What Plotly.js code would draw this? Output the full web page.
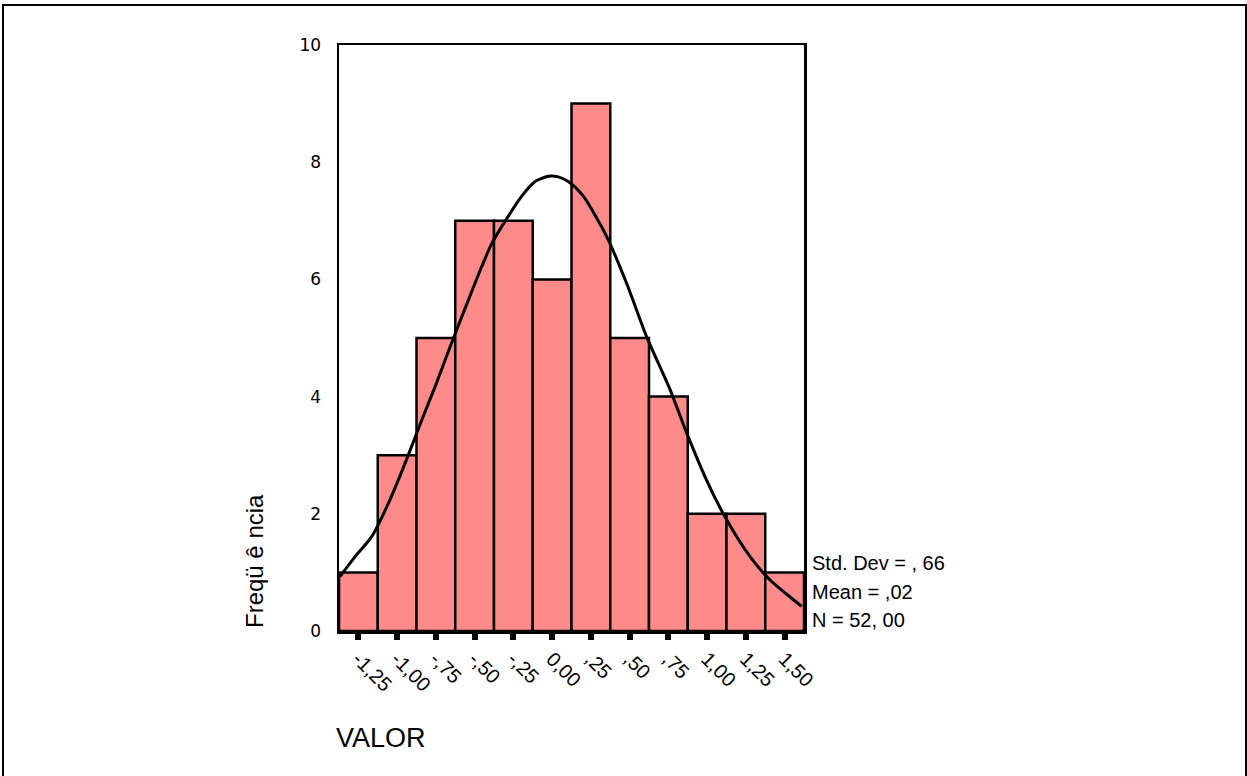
<!DOCTYPE html>
<html>
<head>
<meta charset="utf-8">
<script src="https://cdn.plot.ly/plotly-3.0.1.min.js"></script>
<style>
html,body{margin:0;padding:0;background:#fff;}
#wrap{position:relative;width:1247px;height:776px;overflow:hidden;}
#frame{position:absolute;left:2px;top:4px;width:1241px;height:800px;border:2px solid #000;pointer-events:none;}
#chart{position:absolute;left:0;top:0;width:1247px;height:776px;}
</style>
</head>
<body>
<div id="wrap"><div id="chart"></div><div id="frame"></div></div>
<script>
// Histogram bins (centres) and counts
const binCenters = [-1.25, -1.00, -0.75, -0.50, -0.25, 0.00, 0.25, 0.50, 0.75, 1.00, 1.25, 1.50];
const counts     = [1, 3, 5, 7, 7, 6, 9, 5, 4, 2, 2, 1];
const tickLabels = ["-1,25", "-1,00", "-,75", "-,50", "-,25", "0,00", ",25", ",50", ",75", "1,00", "1,25", "1,50"];

// Normal curve, points
const curveX = [-1.369, -1.271, -1.164, -1.056, -0.949, -0.841, -0.755, -0.658, -0.540, -0.454, -0.390, -0.304, -0.196, -0.110, -0.025, 0.040, 0.104, 0.201, 0.352, 0.481, 0.610, 0.761, 0.868, 0.997, 1.115, 1.277, 1.406, 1.535, 1.610];
const curveY = [0.93, 1.27, 1.61, 2.18, 2.86, 3.60, 4.17, 4.85, 5.65, 6.22, 6.61, 6.99, 7.42, 7.67, 7.76, 7.75, 7.67, 7.42, 6.73, 5.93, 5.02, 4.12, 3.38, 2.57, 1.95, 1.27, 0.87, 0.58, 0.42];

const statsLines = ["Std. Dev = , 66", "Mean = ,02", "N = 52, 00"];
const xTitle = "VALOR";
const yTitle = "Freqü ê ncia";

const font = "Liberation Sans, Arial, sans-serif";

const traces = [
  {
    type: "bar",
    x: binCenters,
    y: counts,
    width: 0.25,
    marker: {color: "#FF8A8A", line: {color: "#000", width: 2.5}},
    hoverinfo: "x+y"
  },
  {
    type: "scatter",
    mode: "lines",
    x: curveX,
    y: curveY,
    line: {color: "#000", width: 3, shape: "spline", smoothing: 0.7},
    hoverinfo: "skip"
  }
];

const annotations = [
  {
    text: xTitle, xref: "paper", yref: "paper",
    x: (334 - 339) / 465, y: -(738 - 631) / 586,
    xanchor: "left", yanchor: "middle", showarrow: false,
    font: {family: font, size: 27, color: "#000"}
  },
  {
    text: yTitle, xref: "paper", yref: "paper", textangle: -90,
    x: (254 - 339) / 465, y: (631 - 561) / 586,
    xanchor: "center", yanchor: "middle", showarrow: false,
    font: {family: font, size: 24, color: "#000"}
  }
];
statsLines.forEach((t, i) => {
  annotations.push({
    text: t, xref: "paper", yref: "paper",
    x: (810 - 339) / 465, y: (631 - (563 + i * 28.5)) / 586,
    xanchor: "left", yanchor: "middle", showarrow: false,
    font: {family: font, size: 20, color: "#000"}
  });
});

const layout = {
  width: 1247, height: 776,
  margin: {l: 339, r: 443, t: 45, b: 145, pad: 0},
  paper_bgcolor: "#fff", plot_bgcolor: "#fff",
  showlegend: false,
  bargap: 0,
  xaxis: {
    range: [-1.375, 1.625],
    tickmode: "array", tickvals: binCenters, ticktext: tickLabels,
    tickangle: 45,
    ticks: "outside", ticklen: 6, tickwidth: 6, tickcolor: "#000",
    showline: true, mirror: true, linecolor: "#000", linewidth: 2.5,
    showgrid: false, zeroline: false,
    tickfont: {family: font, size: 20, color: "#000"}
  },
  yaxis: {
    range: [0, 10],
    tickmode: "array", tickvals: [0, 2, 4, 6, 8, 10],
    ticks: "outside", ticklen: 12, tickcolor: "rgba(0,0,0,0)",
    showline: true, mirror: true, linecolor: "#000", linewidth: 2.5,
    showgrid: false, zeroline: false,
    tickfont: {family: "DejaVu Sans, sans-serif", size: 17, color: "#000"}
  },
  annotations: annotations
};

Plotly.newPlot("chart", traces, layout, {displayModeBar: false, staticPlot: true});
</script>
</body>
</html>
